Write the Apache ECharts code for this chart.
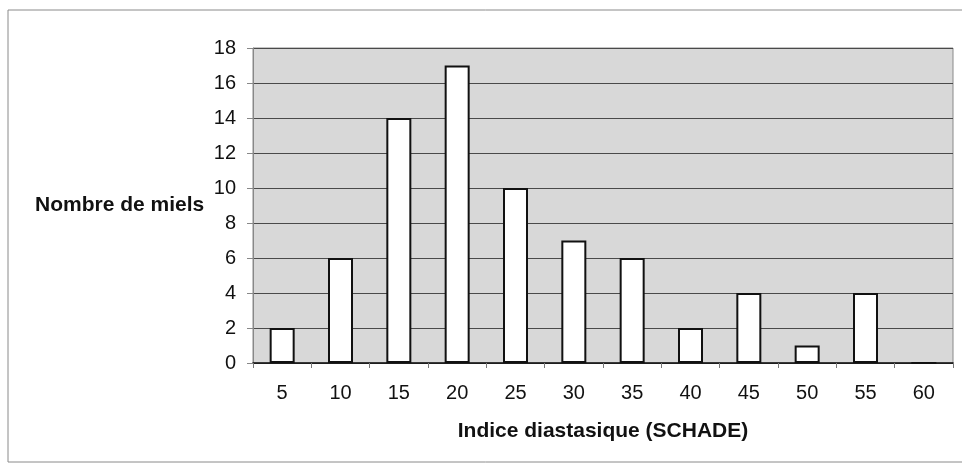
<!DOCTYPE html>
<html>
<head>
<meta charset="utf-8">
<script src="https://cdn.jsdelivr.net/npm/echarts@6/dist/echarts.min.js"></script>
<style>
  html, body { margin: 0; padding: 0; background: #ffffff; }
  #chart { width: 962px; height: 466px; }
</style>
</head>
<body>
<div id="chart"></div>
<script>
// Diastase index classes (Schade units) and number of honeys per class
const categories = ['5', '10', '15', '20', '25', '30', '35', '40', '45', '50', '55', '60'];
const honeyCounts = [2, 6, 14, 17, 10, 7, 6, 2, 4, 1, 4, 0];
const yTicks = { min: 0, max: 18, step: 2 };

const chart = echarts.init(document.getElementById('chart'), null, { renderer: 'canvas' });

const fontFamily = '"Liberation Sans", Arial, sans-serif';

chart.setOption({
  backgroundColor: '#ffffff',
  animation: false,
  graphic: [
    {
      type: 'rect',
      shape: { x: 8, y: 10, width: 960, height: 452 },
      style: { fill: 'none', stroke: '#8a8a8a', lineWidth: 1 },
      silent: true,
      z: 0
    },
    {
      type: 'text',
      left: 35,
      top: 195,
      style: {
        text: 'Nombre de miels',
        font: 'bold 21px ' + fontFamily,
        fill: '#111111'
      }
    }
  ],
  grid: {
    left: 253,
    top: 48,
    right: 9,
    bottom: 103,
    show: true,
    backgroundColor: '#d8d8d8',
    borderColor: '#8a8a8a',
    borderWidth: 1
  },
  xAxis: {
    type: 'category',
    data: categories,
    name: 'Indice diastasique (SCHADE)',
    nameLocation: 'middle',
    nameGap: 58,
    nameTextStyle: {
      fontFamily: fontFamily,
      fontWeight: 'bold',
      fontSize: 21,
      color: '#111111'
    },
    axisLine: { show: true, lineStyle: { color: '#111111', width: 1.5 } },
    axisTick: { show: true, alignWithLabel: false, length: 5, lineStyle: { color: '#777777' } },
    axisLabel: {
      margin: 20,
      fontFamily: fontFamily,
      fontSize: 20,
      color: '#111111'
    },
    splitLine: { show: false }
  },
  yAxis: {
    type: 'value',
    min: yTicks.min,
    max: yTicks.max,
    interval: yTicks.step,
    axisLine: { show: true, lineStyle: { color: '#888888', width: 1 } },
    axisTick: { show: true, length: 6, lineStyle: { color: '#888888' } },
    axisLabel: {
      margin: 17,
      fontFamily: fontFamily,
      fontSize: 20,
      color: '#111111'
    },
    splitLine: { show: true, lineStyle: { color: '#4a4a4a', width: 1 } }
  },
  series: [
    {
      type: 'bar',
      data: honeyCounts,
      barWidth: 25,
      itemStyle: {
        color: '#ffffff',
        borderColor: '#111111',
        borderWidth: 2
      },
      label: { show: false }
    }
  ]
});
</script>
</body>
</html>
